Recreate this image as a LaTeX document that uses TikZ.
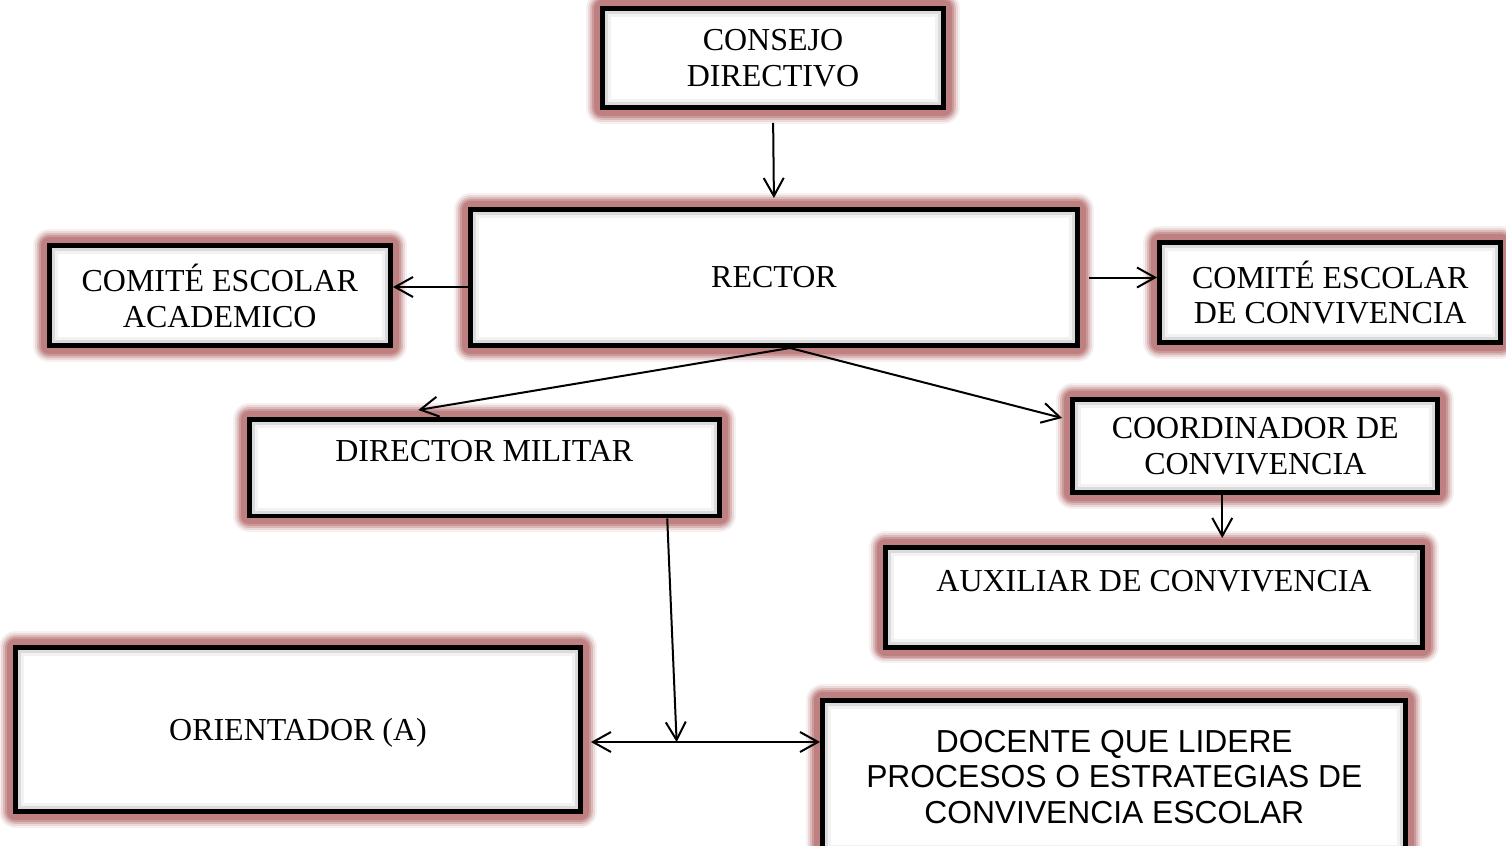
\documentclass[tikz,border=0pt]{standalone}
\usepackage{fontspec}
\setmainfont{Liberation Serif}
\setsansfont{Liberation Sans}
\usetikzlibrary{arrows.meta}
\definecolor{glowred}{RGB}{190,128,128}

\tikzset{
  cargo/.style={draw=black, line width=0.1cm, fill=white, align=center, inner sep=0pt,
    font=\fontsize{18.2}{20.4}\selectfont,
    preaction={draw=glowred!12, line width=0.66cm, line join=round},
    preaction={draw=glowred!30, line width=0.58cm, line join=round},
    preaction={draw=glowred!55, line width=0.5cm, line join=round},
    preaction={draw=glowred!80, line width=0.42cm, line join=round},
    preaction={draw=glowred, line width=0.34cm, line join=round},
    path picture={
      \draw[black!5, line width=0.34cm] (path picture bounding box.south west) rectangle (path picture bounding box.north east);
      \draw[black!14, line width=0.22cm] (path picture bounding box.south west) rectangle (path picture bounding box.north east);
    }},
  arriba/.style={text height=0.45cm, text depth=0.69cm},
  sans/.style={font=\sffamily\fontsize{18.1}{20.4}\selectfont},
  flecha/.style={-{Straight Barb[length=0.36cm,width=0.4cm]}, line width=0.04cm},
  dosflechas/.style={{Straight Barb[length=0.36cm,width=0.4cm]}-{Straight Barb[length=0.36cm,width=0.4cm]}, line width=0.04cm}
}

\begin{document}
\begin{tikzpicture}[x=0.02cm, y=-0.02cm]
\useasboundingbox (0,0) rectangle (1506,845);
\clip (0,0) rectangle (1506,845);

\node [cargo, minimum width=6.83cm, minimum height=1.98cm] (consejo) at (773,58) {CONSEJO\\DIRECTIVO};
\node [cargo, minimum width=12.14cm, minimum height=2.72cm] (rector) at (774,277.5) {RECTOR};
\node [cargo, minimum width=6.83cm, minimum height=2.01cm] (academico) at (219.75,295.75) {COMITÉ ESCOLAR\\ACADEMICO};
\node [cargo, minimum width=6.83cm, minimum height=2cm] (convivencia) at (1330.25,292.5) {COMITÉ ESCOLAR\\DE CONVIVENCIA};
\node [cargo, arriba, minimum width=9.41cm, minimum height=1.93cm] (director) at (484.25,467.75) {DIRECTOR MILITAR};
\node [cargo, minimum width=7.31cm, minimum height=1.86cm] (coordinador) at (1255.25,446) {COORDINADOR DE\\CONVIVENCIA};
\node [cargo, arriba, minimum width=10.76cm, minimum height=1.99cm] (auxiliar) at (1154,597.25) {AUXILIAR DE CONVIVENCIA};
\node [cargo, minimum width=11.3cm, minimum height=3.28cm, text height=0.55cm, text depth=0.11cm] (orientador) at (298,729.5) {ORIENTADOR (A)};
\node [cargo, sans, minimum width=11.67cm, minimum height=3.06cm] (docente) at (1114.25,777) {DOCENTE QUE LIDERE\\PROCESOS O ESTRATEGIAS DE\\CONVIVENCIA ESCOLAR};

\draw [flecha, shorten <=0.26cm, shorten >=0.18cm] (consejo.south) -- (rector.north);
\draw [flecha] ([yshift=-0.19cm]rector.west) coordinate (r1) -- (r1 -| academico.east);
\draw [flecha, shorten <=0.18cm] (rector.east) -- (rector.east -| convivencia.west);

\coordinate (rs) at ([xshift=0.32cm]rector.south);
\draw [flecha] (rs) -- ([xshift=-1.32cm, yshift=0.14cm]director.north);
\draw [flecha] (rs) -- ([xshift=-0.16cm, yshift=0.56cm]coordinador.west);
\draw [flecha, shorten >=0.14cm] ([xshift=-0.66cm]coordinador.south) coordinate (c1) -- (c1 |- auxiliar.north);

\draw [dosflechas] ([xshift=0.16cm, yshift=-0.25cm]orientador.east) coordinate (o1) -- coordinate [pos=0.374] (cruce) (o1 -| docente.west);
\draw [flecha] ([xshift=3.66cm]director.south) -- (cruce);

\end{tikzpicture}
\end{document}
